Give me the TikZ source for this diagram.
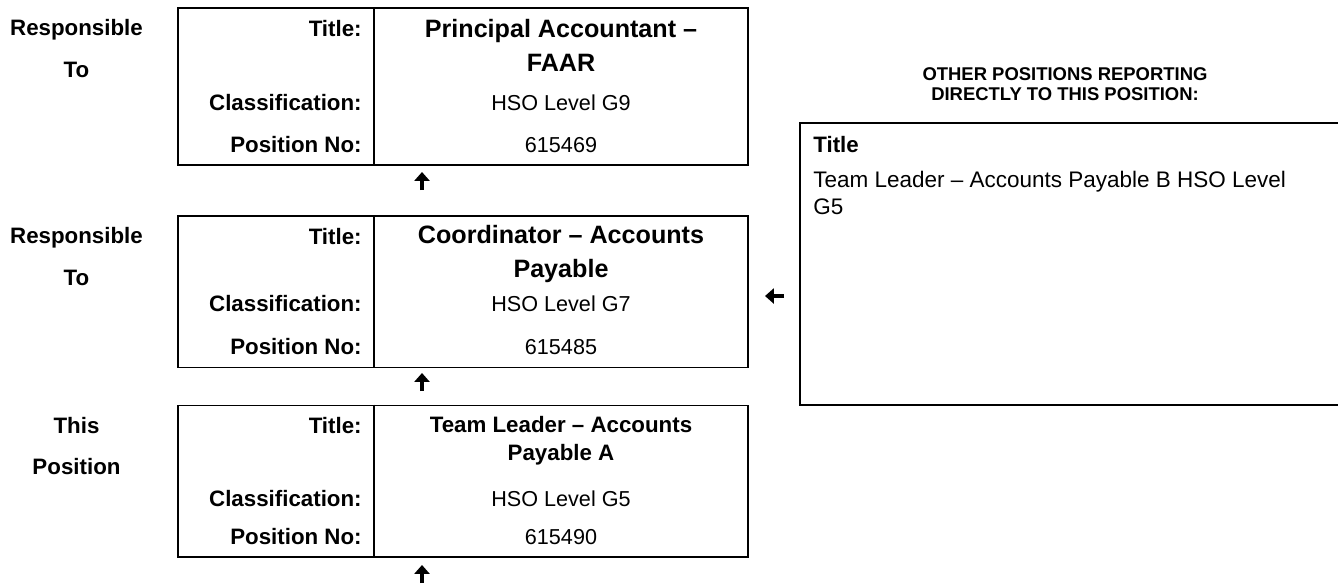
\documentclass[tikz,border=0pt]{standalone}
\usepackage{fontspec}
\setmainfont{Liberation Sans}
\usetikzlibrary{arrows.meta, positioning}

\tikzset{
  posbox/.style={draw, line width=1.1pt, minimum width=11.4cm, inner sep=0pt},
  rule/.style={line width=1.1pt},
  lbl/.style={font=\fontsize{12.7}{14}\selectfont\bfseries, anchor=east, inner sep=0pt},
  val/.style={font=\fontsize{12.3}{14}\selectfont, inner sep=0pt},
  ttl/.style={font=\fontsize{14.3}{19.3}\selectfont\bfseries, align=center, inner sep=0pt},
  ttlsmall/.style={font=\fontsize{12.7}{16}\selectfont\bfseries, align=center, inner sep=0pt},
  side/.style={font=\fontsize{12.7}{14}\selectfont\bfseries, inner sep=0pt},
  arr/.style={-{Triangle[length=5pt,width=8.5pt]}, line width=1.9pt},
}

\begin{document}
\begin{tikzpicture}[x=0.02cm, y=-0.02cm]
  \useasboundingbox (0,0) rectangle (1338,583);
  \coordinate (div) at (374,0);

  % reports to (top)
  \node[side] (rt1) at (76.5,29.5) {Responsible};
  \node[side] (rt1b) at (76.5,70) {To};
  \node[posbox, minimum height=3.14cm] (b1) at (463,86.5) {};
  \draw[rule] (div |- b1.north) -- (div |- b1.south);
  \node[lbl] (b1t) at (362,28.5) {Title:};
  \node[ttl] (b1tv) at (561,45.5) {Principal Accountant –\\FAAR};
  \node[lbl] (b1c) at (362,103) {Classification:};
  \node[val] (b1cv) at (561,103) {HSO Level G9};
  \node[lbl] (b1p) at (362,145) {Position No:};
  \node[val] (b1pv) at (561,145) {615469};

  % reports to (middle)
  \node[side] (rt2) at (76.5,238) {Responsible};
  \node[side] (rt2b) at (76.5,278) {To};
  \node[posbox, minimum height=3.03cm] (b2) at (463,291.75) {};
  \draw[rule] (div |- b2.north) -- (div |- b2.south);
  \node[lbl] (b2t) at (362,237) {Title:};
  \node[ttl] (b2tv) at (561,254) {Coordinator – Accounts\\Payable};
  \node[lbl] (b2c) at (362,304) {Classification:};
  \node[val] (b2cv) at (561,304) {HSO Level G7};
  \node[lbl] (b2p) at (362,347) {Position No:};
  \node[val] (b2pv) at (561,347) {615485};

  % this position
  \node[side] (tp) at (76.5,426) {This};
  \node[side] (tpb) at (76.5,467) {Position};
  \node[posbox, minimum height=3.03cm] (b3) at (463,481.25) {};
  \draw[rule] (div |- b3.north) -- (div |- b3.south);
  \node[lbl] (b3t) at (362,426) {Title:};
  \node[ttlsmall] (b3tv) at (561,441) {Team Leader – Accounts\\Payable A};
  \node[lbl] (b3c) at (362,499) {Classification:};
  \node[val] (b3cv) at (561,499) {HSO Level G5};
  \node[lbl] (b3p) at (362,537) {Position No:};
  \node[val] (b3pv) at (561,537) {615490};

  % other positions reporting in
  \node[font=\fontsize{10.5}{11.5}\selectfont\bfseries, align=center] (oth) at (1065,84)
    {OTHER POSITIONS REPORTING\\DIRECTLY TO THIS POSITION:};
  \node[draw, line width=1.1pt, minimum width=11cm, minimum height=5.64cm] (ob) at (1075,264) {};
  \node[font=\fontsize{12.7}{14}\selectfont\bfseries, anchor=west, inner sep=0pt] (obt) at (813,145) {Title};
  \node[font=\fontsize{12.8}{15.5}\selectfont, align=left, anchor=north west, inner sep=0pt] (obv) at (813,171)
    {Team Leader – Accounts Payable B HSO Level\\G5};

  % arrows
  \coordinate (a1s) at (422,190); \coordinate (a1e) at (422,172);
  \coordinate (a2s) at (422,391); \coordinate (a2e) at (422,373);
  \coordinate (a3s) at (422,583); \coordinate (a3e) at (422,565);
  \coordinate (a4s) at (784,296); \coordinate (a4e) at (765,296);
  \foreach \a/\b in {a1s/a1e,a2s/a2e,a3s/a3e,a4s/a4e}
    \draw[arr] (\a) -- (\b);
\end{tikzpicture}
\end{document}
